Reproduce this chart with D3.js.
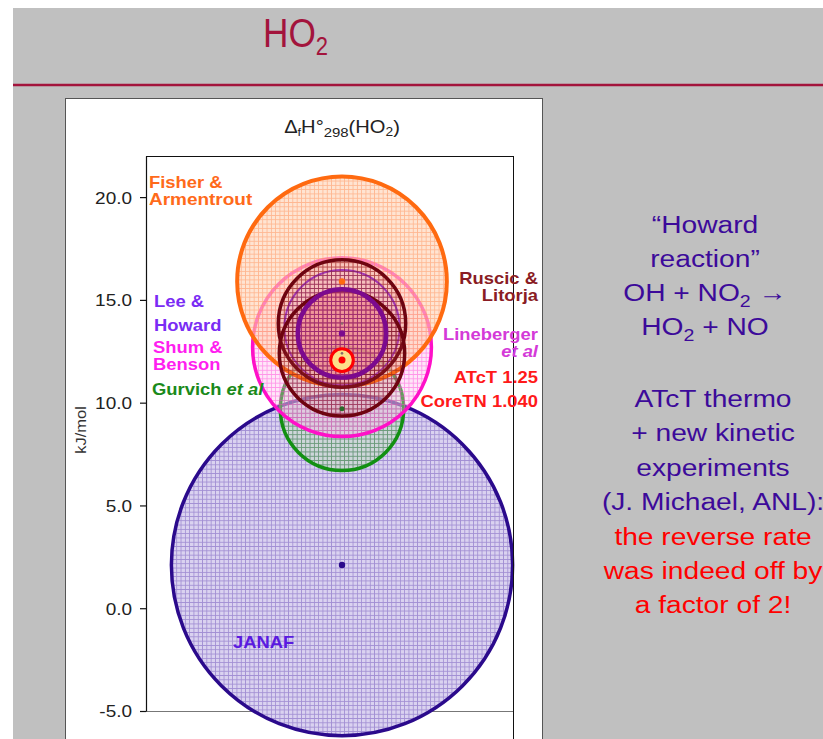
<!DOCTYPE html>
<html><head><meta charset="utf-8">
<script src="https://cdn.jsdelivr.net/npm/d3@7"></script>
<style>
body{margin:0;background:#fff}
svg{display:block}
text{font-family:"Liberation Sans",Arial,Helvetica,sans-serif}
</style>
</head><body>
<svg id="c" width="823" height="739"></svg>
<script>
// ---------------- data ----------------
const studies = ["JANAF", "Gurvich et al", "Shum & Benson", "Fisher & Armentrout",
  "Lee & Howard", "Ruscic & Litorja (a)", "Ruscic & Litorja (b)", "Lineberger et al", "ATcT 1.25"];
const centerValues = [2.1, 9.7, 12.7, 15.9, 13.65, 13.85, 12.4, 13.37, 12.07];   // kJ/mol
const uncertainties = [8.3, 3.0, 4.35, 5.1, 2.8, 3.1, 3.05, 2.15, 0.55];        // kJ/mol
const yTickValues = [-5, 0, 5, 10, 15, 20];
const yTickLabels = ["-5.0", "0.0", "5.0", "10.0", "15.0", "20.0"];
const yDomain = [-5, 22];

// ---------------- styles ----------------
const strokeColors = ["#2b0a8c", "#129012", "#ff10c8", "#ff6a10", "#9a34c8", "#6e0410", "#6e0410", "#7c0a8e", "#ff0000"];
const fillColors   = ["#dad2f0", "#b8e0b0", "#ffb8ec", "#ffd2b4", "#e0a8e8", "#d85858", "#d85858", "#f07880", "#fde08a"];
const fillOpac     = [1.0, 0.35, 0.35, 0.6, 0.12, 0.16, 0.16, 0.4, 1.0];
const gridColors   = ["#6a4cb8", "#2a8a2a", "#ff44d8", "#ff8a50", "#9a34c8", "#6e0410", "#6e0410", "#8a1090", null];
const strokeWidths = [3.5, 3.5, 3.5, 4, 2, 3.5, 3.5, 4.5, 3];
const dotColors    = ["#2b0a8c", "#2a6a2a", null, "#ff6a10", null, "#8a6a6a", "#8a6a6a", "#7c0a8e", "#ff0000"];
const dotRadii     = [3.2, 2.5, 0, 3.2, 0, 1.3, 1.3, 3.2, 3.5];

const svg = d3.select("#c");
const SX = 1.15;

function label(g, x, y, str, o) {
  const t = g.append("text")
    .attr("transform", `translate(${x},${y}) scale(${o.sx || SX},1)`)
    .attr("text-anchor", o.anchor || "start")
    .attr("font-size", o.size)
    .attr("font-weight", o.weight || "normal")
    .attr("fill", o.color);
  if (Array.isArray(str)) {
    str.forEach(p => {
      const ts = t.append("tspan").text(p.t);
      if (p.style) ts.attr("font-style", p.style);
      if (p.size) ts.attr("font-size", p.size);
      if (p.dy) ts.attr("dy", p.dy);
    });
  } else t.text(str);
  return t;
}

// background
svg.append("rect").attr("x", 13).attr("y", 8).attr("width", 823).attr("height", 739).attr("fill", "#c0c0c0");
svg.append("line").attr("x1", 13).attr("x2", 823).attr("y1", 85).attr("y2", 85)
  .attr("stroke", "#a3143c").attr("stroke-width", 2.5);

// slide title HO2
label(svg, 263, 47, [{t: "HO"}, {t: "2", size: 25, dy: 8}], {size: 40, color: "#a3143c", sx: 0.88});

// white panel
svg.append("rect").attr("x", 65.5).attr("y", 98.5).attr("width", 477).attr("height", 660)
  .attr("fill", "#fff").attr("stroke", "#555").attr("stroke-width", 1);

// scales
const plotLeft = 146, plotRight = 513, plotTop = 156, plotBottom = 711;
const y = d3.scaleLinear().domain(yDomain).range([plotBottom, plotTop]);
const pxPerUnit = (plotBottom - plotTop) / (yDomain[1] - yDomain[0]);
const x = d3.scaleLinear().domain([-(342 - plotLeft) / pxPerUnit, (plotRight - 342) / pxPerUnit]).range([plotLeft, plotRight]);
const r = v => y(0) - y(v);

// frame lines (under circles)
svg.append("line").attr("x1", plotLeft).attr("x2", plotRight).attr("y1", plotBottom + 0.5).attr("y2", plotBottom + 0.5)
  .attr("stroke", "#777").attr("stroke-width", 1);
svg.append("line").attr("x1", plotLeft).attr("x2", plotRight).attr("y1", plotTop + 0.5).attr("y2", plotTop + 0.5)
  .attr("stroke", "#111").attr("stroke-width", 1.2);

// patterns
const defs = svg.append("defs");
gridColors.forEach((c, i) => {
  if (!c) return;
  const p = defs.append("pattern").attr("id", "g" + i).attr("patternUnits", "userSpaceOnUse")
    .attr("width", 4.3).attr("height", 4.3);
  p.append("path").attr("d", "M0,0.4H4.3M0.4,0V4.3").attr("stroke", c).attr("stroke-width", 0.9)
    .attr("stroke-opacity", 0.5).attr("fill", "none");
});

// circles
const order = d3.range(studies.length);
const cg = svg.append("g");
order.forEach(i => {
  const cx = x(0), cy = y(centerValues[i]), rr = r(uncertainties[i]);
  cg.append("circle").attr("cx", cx).attr("cy", cy).attr("r", rr)
    .attr("fill", fillColors[i]).attr("fill-opacity", fillOpac[i]);
  if (gridColors[i]) cg.append("circle").attr("cx", cx).attr("cy", cy).attr("r", rr).attr("fill", `url(#g${i})`);
  cg.append("circle").attr("cx", cx).attr("cy", cy).attr("r", rr)
    .attr("fill", "none").attr("stroke", strokeColors[i]).attr("stroke-width", strokeWidths[i]);
});
order.forEach(i => {
  if (dotColors[i]) cg.append("circle").attr("cx", x(0)).attr("cy", y(centerValues[i])).attr("r", dotRadii[i]).attr("fill", dotColors[i]);
});

// y axis
const axG = svg.append("g").attr("transform", `translate(${plotLeft},0)`);
axG.call(d3.axisLeft(y).tickValues(d3.range(-5, 22, 1)).tickSize(6).tickSizeOuter(0).tickFormat(""));
axG.call(d3.axisLeft(y).tickValues(yTickValues).tickSize(6).tickSizeOuter(0)
  .tickFormat((d, i) => yTickLabels[i]));
axG.selectAll(".domain").attr("stroke", "#111").attr("stroke-width", 1.2);
axG.selectAll(".tick line").attr("stroke", "#111").attr("stroke-width", 1.2);
axG.selectAll(".tick text").attr("x", null).attr("dy", "0.36em")
  .attr("transform", `translate(-14,0) scale(${SX},1)`)
  .attr("font-size", 16.5).attr("fill", "#222").attr("font-family", '"Liberation Sans",Arial,sans-serif');
svg.append("line").attr("x1", plotRight + 0.5).attr("x2", plotRight + 0.5).attr("y1", plotTop).attr("y2", 739)
  .attr("stroke", "#111").attr("stroke-width", 1);

// axis title
svg.append("text").attr("transform", "translate(86,430) rotate(-90) scale(1.1,1)")
  .attr("text-anchor", "middle").attr("font-size", 15).attr("fill", "#333").text("kJ/mol");

// chart title ΔfH°298(HO2)
label(svg, 342, 133, [{t: "Δ"}, {t: "f", size: 11, dy: 3}, {t: "H°", dy: -3}, {t: "298", size: 13, dy: 4}, {t: "(HO", dy: -4}, {t: "2", size: 12, dy: 3}, {t: ")", dy: -3}],
  {size: 17.5, color: "#222", anchor: "middle", sx: 1.15});

// study labels
const B = "bold";
label(svg, 149, 188, "Fisher &", {size: 16, weight: B, color: "#ff6a1a"});
label(svg, 149, 205, "Armentrout", {size: 16.5, weight: B, color: "#ff6a1a"});
label(svg, 154, 307, "Lee &", {size: 16, weight: B, color: "#7a2cf4"});
label(svg, 154, 331, "Howard", {size: 16, weight: B, color: "#7a2cf4"});
label(svg, 153, 353, "Shum &", {size: 16, weight: B, color: "#ff1ef0"});
label(svg, 153, 370, "Benson", {size: 16, weight: B, color: "#ff1ef0"});
label(svg, 152, 395, [{t: "Gurvich "}, {t: "et al", style: "italic"}], {size: 16, weight: B, color: "#1a8a1a"});
label(svg, 538, 284, "Ruscic &", {size: 16, weight: B, color: "#8a1c24", anchor: "end"});
label(svg, 538, 301, "Litorja", {size: 16, weight: B, color: "#8a1c24", anchor: "end"});
label(svg, 538, 340, "Lineberger", {size: 16, weight: B, color: "#d43ad8", anchor: "end"});
label(svg, 538, 357, "et al", {size: 16, weight: B, color: "#d43ad8", anchor: "end"}).attr("font-style", "italic");
label(svg, 538, 383, "ATcT 1.25", {size: 16, weight: B, color: "#ff1a1a", anchor: "end"});
label(svg, 538, 407, "CoreTN 1.040", {size: 16, weight: B, color: "#ff1a1a", anchor: "end"});
label(svg, 233, 648, "JANAF", {size: 16, weight: B, color: "#5a1ae0"});

// right-hand commentary
const IND = "#3c0a9a", RED = "#ff0000";
const rs = {size: 24.5, color: IND, anchor: "middle"};
label(svg, 705, 233, "“Howard", rs);
label(svg, 705, 267, "reaction”", rs);
label(svg, 705, 301, [{t: "OH + NO"}, {t: "2", size: 17, dy: 6}, {t: " →", dy: -6}], rs);
label(svg, 705, 335, [{t: "HO"}, {t: "2", size: 17, dy: 6}, {t: " + NO", dy: -6}], rs);
label(svg, 713, 407, "ATcT thermo", rs);
label(svg, 713, 441, "+ new kinetic", rs);
label(svg, 713, 476, "experiments", rs);
label(svg, 713, 510, "(J. Michael, ANL):", rs);
label(svg, 713, 545, "the reverse rate", {...rs, color: RED});
label(svg, 713, 579, "was indeed off by", {...rs, color: RED});
label(svg, 713, 613, "a factor of 2!", {...rs, color: RED});
</script>
</body></html>
